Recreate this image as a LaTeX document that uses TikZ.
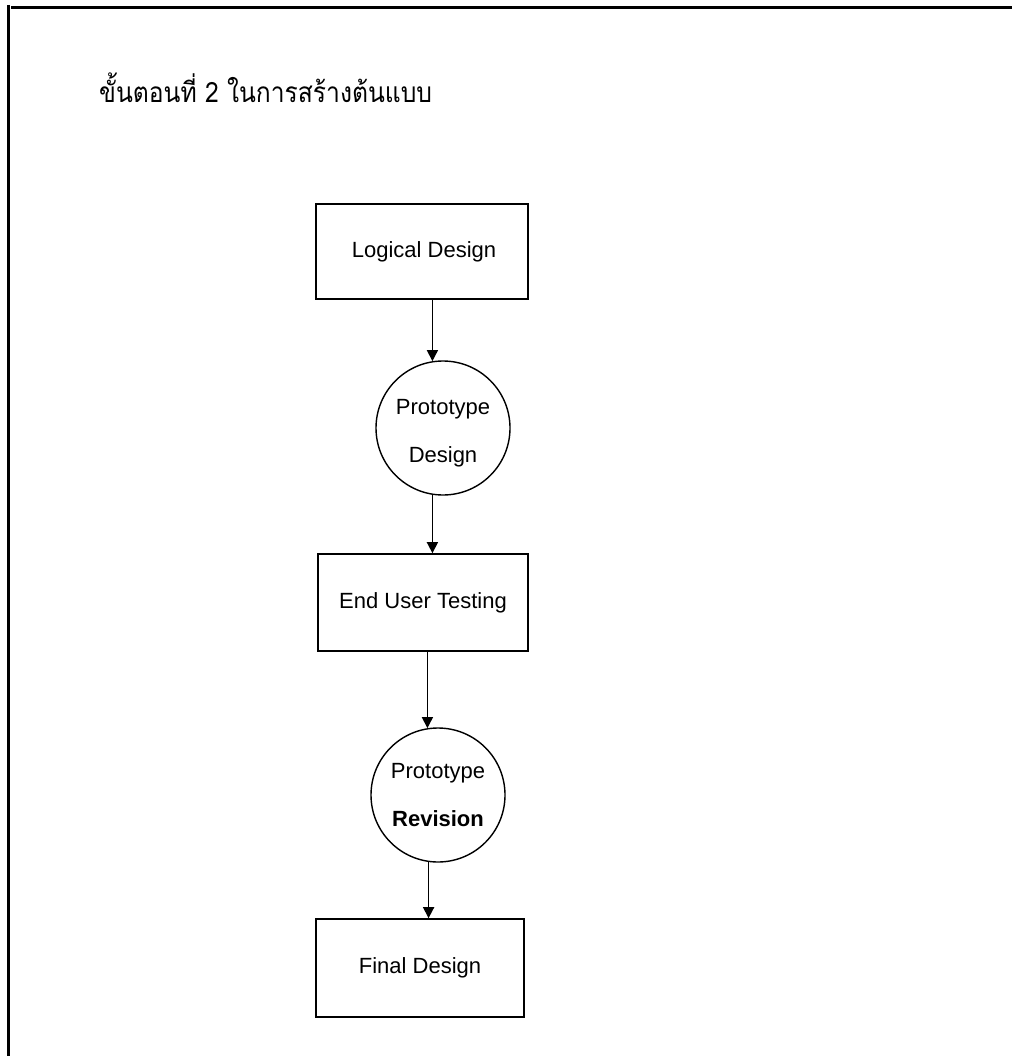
\documentclass[tikz,border=0pt]{standalone}
\usepackage{fontspec}
\setmainfont{Liberation Sans}
\newfontfamily\thaifont[Script=Thai]{Loma}
\usetikzlibrary{arrows.meta}
\newcommand{\lowertxt}[1]{\raisebox{-5pt}[\height][\depth]{#1}}
\begin{document}
\begin{tikzpicture}[x=1pt,y=-1pt,
  box/.style={draw, line width=1.6pt, rectangle, inner sep=0pt, font=\fontsize{22}{26}\selectfont},
  disc/.style={draw, line width=1.4pt, circle, inner sep=0pt, minimum size=134pt, align=center, font=\fontsize{22}{26}\selectfont},
  arr/.style={line width=1.6pt, -{Triangle[length=11pt,width=11pt]}},
  frame/.style={line width=3pt}]
\useasboundingbox (0,0) rectangle (1012,1056);
\fill[white] (0,0) rectangle (1012,1056);
\draw[frame] (8.5,5) -- (8.5,1056);
\draw[frame] (11,8) -- (1012,8);
\node[anchor=base west, inner sep=0pt, font=\thaifont\fontsize{28}{32}\selectfont] (title) at (99,103) {\scalebox{0.88}[1]{ขั้นตอนที่ 2 ในการสร้างต้นแบบ}};
\node[box, minimum width=212pt, minimum height=95pt] (logical) at (422,251.5) {\hspace*{4pt}Logical Design};
\node[disc] (proto1) at (443,428) {\lowertxt{Prototype}\\[22pt]\lowertxt{Design}};
\node[box, minimum width=210pt, minimum height=97pt] (endtest) at (423,602.5) {End User Testing};
\node[disc] (proto2) at (438,795) {Prototype\\[22pt]\textbf{Revision}};
\node[box, minimum width=208pt, minimum height=98pt] (final) at (420,968) {Final Design};
\draw[arr] (logical.south -| proto1.99) -- (proto1.99);
\draw[arr] (proto1.261) -- (endtest.north -| proto1.261);
\draw[arr] (endtest.south -| proto2.99) -- (proto2.99);
\draw[arr] (proto2.262) -- (final.north -| proto2.262);
\end{tikzpicture}
\end{document}
